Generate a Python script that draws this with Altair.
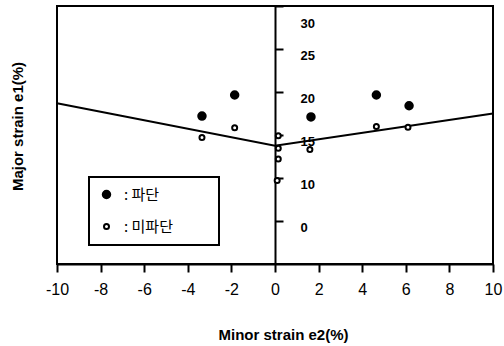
import altair as alt
import pandas as pd

# fractured (파단) points
frac_x = [-3.35, -1.85, 1.65, 4.65, 6.15]
frac_y = [17.2, 19.65, 17.1, 19.65, 18.4]
# not fractured (미파단) points
safe_x = [-3.35, -1.85, 0.15, 0.15, 0.15, 0.1, 1.6, 4.65, 6.1]
safe_y = [14.7, 15.85, 14.9, 13.45, 12.2, 9.7, 13.3, 16.0, 15.9]
# forming limit curve
flc_x = [-10, 0, 10]
flc_y = [18.7, 13.75, 17.5]

types = ["파단", "미파단"]
x_ticks = [-10, -8, -6, -4, -2, 0, 2, 4, 6, 8, 10]
y_ticks = [5, 10, 15, 20, 25, 30]

pts = pd.DataFrame({
    "x": frac_x + safe_x,
    "y": frac_y + safe_y,
    "type": [types[0]] * len(frac_x) + [types[1]] * len(safe_x),
})
line_df = pd.DataFrame({"x": flc_x, "y": flc_y})

FONT = "Liberation Sans"
xscale = alt.Scale(domain=[-10, 10], nice=False, zero=False)
yscale = alt.Scale(domain=[0, 30], nice=False, zero=False)

x_axis = alt.Axis(
    values=x_ticks, grid=False, title="Minor strain e2(%)",
    tickSize=8, tickWidth=2, tickColor="black", domainColor="black", domainWidth=2,
    labelFont=FONT, labelFontSize=16, labelColor="black", labelPadding=9,
    labelFlush=False,
    labelExpr="datum.value < 0 ? '-' + abs(datum.value) : '' + datum.value",
    titleFont=FONT, titleFontSize=15, titleFontWeight="bold", titleColor="black",
    titleY=70, titleBaseline="middle", titleX=226,
)

pad = "\u2009" + "\u2800" * 3
legend = alt.Legend(
    title=None, orient="none", legendX=32, legendY=171,
    strokeColor="black", padding=10, rowPadding=16,
    labelFont="Noto Sans CJK KR", labelFontSize=15, labelColor="black",
    labelExpr="': ' + datum.label + '" + pad + "'",
    symbolStrokeColor="black", symbolStrokeWidth=2, labelOffset=10,
)

line = alt.Chart(line_df).mark_line(color="black", strokeWidth=2).encode(
    x=alt.X("x:Q", scale=xscale, axis=x_axis),
    y=alt.Y("y:Q", scale=yscale, axis=alt.Axis(
        orient="left", domain=False, ticks=False, labels=False, grid=False,
        title="Major strain e1(%)", titleFont=FONT, titleFontSize=15,
        titleFontWeight="bold", titleColor="black", titleAngle=270,
        titleX=-40, titleY=120, titleAlign="center", titleBaseline="middle",
    )),
)

points = alt.Chart(pts).mark_point(strokeWidth=2, opacity=1).encode(
    x=alt.X("x:Q", scale=xscale, axis=x_axis),
    y=alt.Y("y:Q", scale=yscale, axis=alt.Axis(
        orient="right", offset=-218, values=y_ticks, grid=False, title=None,
        domainColor="black", domainWidth=2, tickColor="black", tickWidth=2, tickSize=8,
        labelFont=FONT, labelFontSize=13, labelFontWeight="bold", labelColor="black",
        labelPadding=17, labelAlign="left", labelBaseline="middle",
        labelOffset={"condition": {"test": "datum.value == 30", "value": 17}, "value": 6},
        labelExpr="datum.value == 5 ? '0' : datum.label",
    )),
    fill=alt.Fill("type:N", scale=alt.Scale(domain=types, range=["black", "white"]), legend=legend),
    stroke=alt.Stroke("type:N", scale=alt.Scale(domain=types, range=["black", "black"]), legend=legend),
    size=alt.Size("type:N", scale=alt.Scale(domain=types, range=[56, 25]), legend=legend),
)

chart = alt.layer(line, points).resolve_axis(y="independent").properties(
    width=436, height=258,
    autosize=alt.AutoSizeParams(type="none"),
    padding={"left": 57, "top": 6, "right": 11, "bottom": 82},
    background="white",
).configure_view(stroke="black", strokeWidth=2).configure_legend(strokeWidth=2)

chart.save("out.html", embed_options={"renderer": "svg", "actions": False})
